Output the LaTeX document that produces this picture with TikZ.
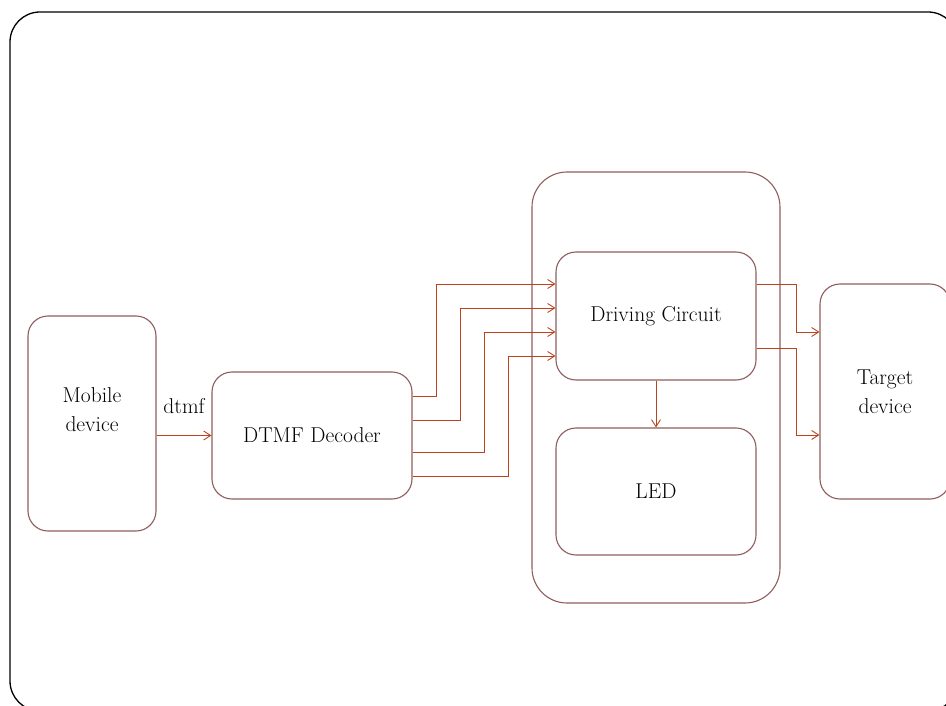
\documentclass[tikz,border=0pt]{standalone}
\usepackage{fontspec}
\usepackage{xcolor}
\usepackage{tikz}
\usetikzlibrary{arrows.meta,positioning,calc}

\definecolor{boxline}{HTML}{8E5E5C}
\definecolor{wire}{HTML}{BA4420}

\begin{document}
\begin{tikzpicture}[
  x=1pt,y=-1pt,
  every node/.style={font=\fontsize{21.5}{29}\selectfont,align=center},
  box/.style={draw=boxline,line width=1.1pt,rounded corners=20pt,inner sep=0pt},
  arr/.style={draw=wire,line width=0.9pt,-{Straight Barb[length=7pt,width=9pt]}}
]
\useasboundingbox (0,0) rectangle (946,706);
% frame round the slide
\draw[line width=1.3pt,rounded corners=30pt] (10,12) rectangle (958,711);
% blocks
\node[box,minimum width=128pt,minimum height=215pt] (mob) at (92,423.5) {};
\node at ([yshift=14pt]mob.center) {Mobile\\device};
\node[box,minimum width=200pt,minimum height=127pt] (dec) at (312,435.5) {DTMF Decoder};
\node[box,rounded corners=35pt,minimum width=248pt,minimum height=431pt] (grp) at (656,387.5) {};
\node[box,minimum width=200pt,minimum height=128pt] (drv) at (656,316) {Driving Circuit};
\node[box,minimum width=200pt,minimum height=127pt] (led) at (656,491.5) {LED};
\node[box,minimum width=130pt,minimum height=215pt] (tgt) at (885,391.5) {Target\\device};
% connectors
\draw[arr] (mob.east |- dec.west) -- node[above=21pt,inner sep=0pt] (lbl) {dtmf} (dec.west);
\foreach \a/\b/\x in {396/284/436,420/308/460,452/332/484,476/356/508}
  \draw[arr] (dec.east |- 0,\a) -- (\x,\a) |- (drv.west |- 0,\b);
\draw[arr] (drv) -- (led);
\draw[arr] (drv.east |- 0,284) -- (796,284) |- (tgt.west |- 0,332);
\draw[arr] (drv.east |- 0,348) -- (796,348) |- (tgt.west |- 0,435);
\end{tikzpicture}
\end{document}
